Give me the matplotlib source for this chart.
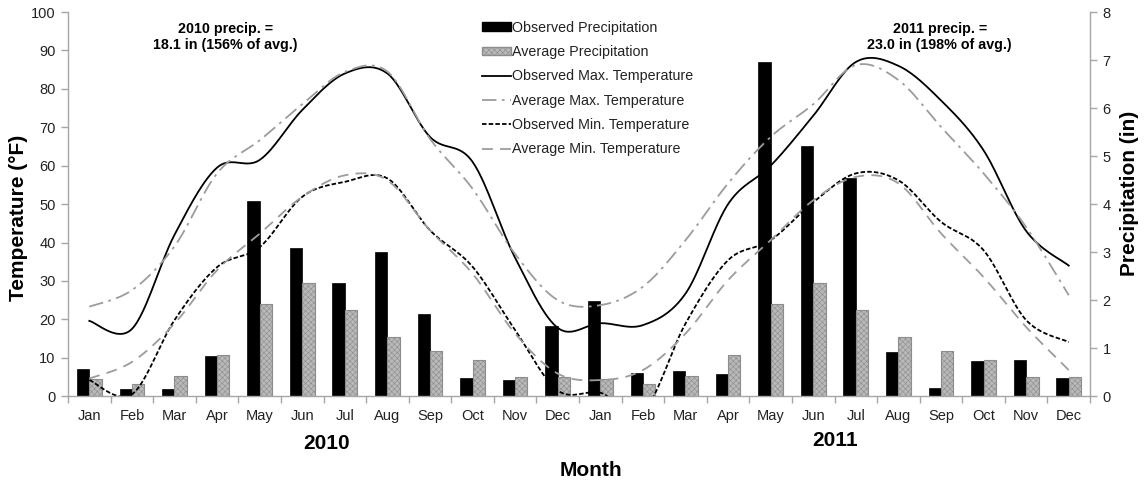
import numpy as np
import matplotlib
matplotlib.use("Agg")
import matplotlib.pyplot as plt
from matplotlib.lines import Line2D
from matplotlib.patches import Patch

plt.rcParams['font.family'] = ['Liberation Sans', 'DejaVu Sans']

months = ["Jan", "Feb", "Mar", "Apr", "May", "Jun", "Jul", "Aug", "Sep", "Oct", "Nov", "Dec"]
tick_labels = months + months

obs_precip = [0.56, 0.14, 0.14, 0.84, 4.06, 3.08, 2.36, 3.00, 1.72, 0.37, 0.34, 1.47,
              1.98, 0.48, 0.52, 0.46, 6.96, 5.21, 4.54, 0.93, 0.17, 0.74, 0.75, 0.37]
avg_precip_normal = [0.35, 0.25, 0.42, 0.85, 1.92, 2.35, 1.79, 1.24, 0.95, 0.75, 0.41, 0.41]

obs_max = [19.6, 17.5, 42.0, 59.5, 61.5, 74.5, 84.0, 84.0, 67.5, 61.0, 36.0, 17.8,
           19.0, 18.5, 26.7, 50.0, 60.0, 73.0, 87.0, 86.0, 77.0, 64.0, 43.0, 34.0]
avg_max = [23.3, 27.6, 39.0, 58.0, 66.6, 76.0, 84.4, 84.5, 67.0, 54.0, 37.0, 25.0,
           23.7, 28.5, 40.6, 55.4, 67.5, 76.0, 86.2, 82.3, 70.1, 58.0, 44.0, 26.3]
obs_min = [4.2, 0.5, 19.8, 33.6, 38.8, 51.9, 55.8, 56.7, 43.2, 33.7, 17.2, 1.5,
           0.9, -4.0, 18.9, 35.4, 40.6, 50.5, 58.0, 56.2, 45.4, 38.0, 19.8, 14.1]
avg_min = [4.6, 8.9, 18.9, 32.8, 42.3, 51.9, 57.5, 56.2, 43.2, 31.9, 16.3, 5.9,
           4.2, 6.8, 16.3, 30.2, 40.6, 51.0, 57.1, 55.4, 42.4, 31.0, 18.0, 6.8]

avg_precip = avg_precip_normal * 2


def smooth(y, n=30):
    """Excel-style smoothed line (Catmull-Rom as cubic Bezier)."""
    y = np.asarray(y, float)
    x = np.arange(len(y), dtype=float)
    pts = np.column_stack([x, y])
    ext = np.vstack([pts[0], pts, pts[-1]])
    out = []
    t = np.linspace(0, 1, n)[:, None]
    for i in range(len(pts) - 1):
        p0, p1, p2, p3 = ext[i], ext[i + 1], ext[i + 2], ext[i + 3]
        c1 = p1 + (p2 - p0) / 6.0
        c2 = p2 - (p3 - p1) / 6.0
        seg = ((1 - t) ** 3) * p1 + 3 * ((1 - t) ** 2) * t * c1 + 3 * (1 - t) * t ** 2 * c2 + t ** 3 * p2
        out.append(seg if i == 0 else seg[1:])
    s = np.vstack(out)
    return s[:, 0], s[:, 1]


fig = plt.figure(figsize=(11.45, 4.82), dpi=100)
ax = fig.add_axes([0.0594, 0.178, 0.8926, 0.797])
ax2 = ax.twinx()
ax.set_zorder(ax2.get_zorder() + 1)
ax.patch.set_visible(False)

n = len(obs_precip)
x = np.arange(n)
w = 0.29
black = "#000000"
gray = "#9c9c9c"
bar_gray = "#b9b9b9"
bar_edge = "#8c8c8c"

plt.rcParams['hatch.color'] = '#9a9a9a'
plt.rcParams['hatch.linewidth'] = 0.4
ax2.bar(x - w / 2, obs_precip, width=w, color=black, edgecolor=black, linewidth=0.5)
ax2.bar(x + w / 2, avg_precip, width=w, color=bar_gray, edgecolor=bar_edge,
        linewidth=0.8, hatch='xxxxxx')

lw = 1.3
ls_avgmax = (8, 3, 1.5, 3)
ls_obsmin = (2.5, 1.2)
ls_avgmin = (6, 4)
xs, ys = smooth(obs_max)
ax.plot(xs, ys, color=black, lw=lw)
xs, ys = smooth(avg_max)
ax.plot(xs, ys, color=gray, lw=lw, dashes=ls_avgmax)
xs, ys = smooth(obs_min)
ax.plot(xs, ys, color=black, lw=lw, dashes=ls_obsmin)
xs, ys = smooth(avg_min)
ax.plot(xs, ys, color=gray, lw=lw, dashes=ls_avgmin)

ax.set_xlim(-0.5, n - 0.5)
ax.set_ylim(0, 100)
ax2.set_ylim(0, 8)
ax.set_yticks(np.arange(0, 101, 10))
ax2.set_yticks(np.arange(0, 9, 1))

spine_c = "#a6a6a6"
for a in (ax, ax2):
    for s in a.spines.values():
        s.set_color(spine_c)
        s.set_linewidth(1.0)
    a.spines['top'].set_visible(False)
ax.spines['right'].set_visible(False)
ax2.spines['left'].set_visible(False)
ax2.spines['bottom'].set_visible(False)

txt_c = '#222222'
ax.set_xticks(x)
ax.set_xticklabels(tick_labels)
ax.set_xticks(np.arange(-0.5, n, 1.0), minor=True)
ax.tick_params(axis='x', which='major', length=0, pad=9, labelsize=10.5, labelcolor=txt_c)
ax.tick_params(axis='x', which='minor', length=5, width=1, color=spine_c, direction='out')
ax.tick_params(axis='y', length=5, width=1, color=spine_c, labelsize=10.5, labelcolor=txt_c, pad=4)
ax2.tick_params(axis='y', length=5, width=1, color=spine_c, labelsize=10.5, labelcolor=txt_c, pad=4)

ax.set_ylabel("Temperature (°F)", fontsize=15, fontweight='bold')
ax.yaxis.set_label_coords(-0.039, 0.464)
ax2.set_ylabel("Precipitation (in)", fontsize=15, fontweight='bold')
ax2.yaxis.set_label_coords(1.029, 0.529)

fig.text(0.2856, 0.079, "2010", ha='center', va='center', fontsize=15, fontweight='bold')
fig.text(0.729, 0.087, "2011", ha='center', va='center', fontsize=15, fontweight='bold')
fig.text(0.516, 0.023, "Month", ha='center', va='center', fontsize=15, fontweight='bold')

ax.text(0.154, 0.935, "2010 precip. =\n18.1 in (156% of avg.)", transform=ax.transAxes,
        ha='center', va='center', fontsize=10.3, fontweight='bold', linespacing=1.1)
ax.text(0.853, 0.935, "2011 precip. =\n23.0 in (198% of avg.)", transform=ax.transAxes,
        ha='center', va='center', fontsize=10.3, fontweight='bold', linespacing=1.1)

handles = [
    Patch(facecolor=black, edgecolor=black),
    Patch(facecolor=bar_gray, edgecolor=bar_edge, hatch='xxxxxx'),
    Line2D([], [], color=black, lw=lw),
    Line2D([], [], color=gray, lw=lw, dashes=ls_avgmax),
    Line2D([], [], color=black, lw=lw, dashes=ls_obsmin),
    Line2D([], [], color=gray, lw=lw, dashes=ls_avgmin),
]
labels = ["Observed Precipitation", "Average Precipitation", "Observed Max. Temperature",
          "Average Max. Temperature", "Observed Min. Temperature", "Average Min. Temperature"]
leg = ax.legend(handles, labels, loc='upper left', bbox_to_anchor=(0.397, 1.0), frameon=False,
                fontsize=10.3, handlelength=2.0, handleheight=0.5, handletextpad=0.1,
                labelspacing=0.72, borderaxespad=0.3, borderpad=0.3)
for t in leg.get_texts():
    t.set_color(txt_c)

fig.savefig("out.png", dpi=100)
